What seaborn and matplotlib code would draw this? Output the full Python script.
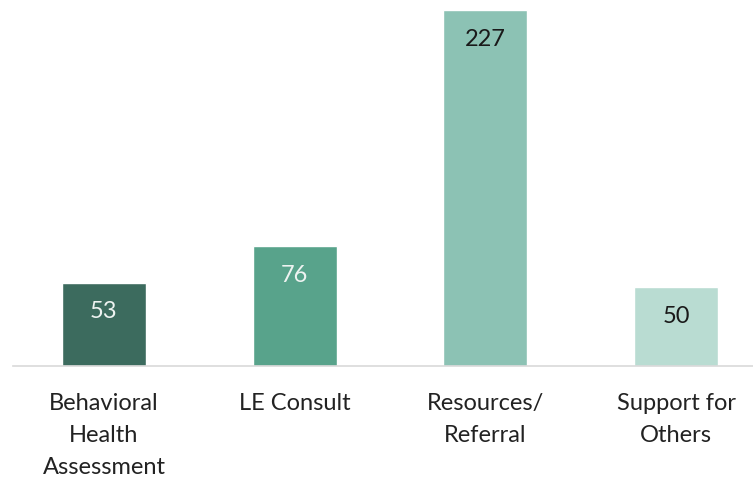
import pandas as pd
import numpy as np
import matplotlib.pyplot as plt
import seaborn as sns

categories = ["Behavioral\nHealth\nAssessment", "LE Consult", "Resources/\nReferral", "Support for\nOthers"]
counts = [53, 76, 227, 50]
bar_colors = ["#3c6b5e", "#58a38b", "#8cc2b4", "#b9dcd2"]
label_colors = ["#eef3f1", "#eef3f1", "#1a1a1a", "#1a1a1a"]

sns.set_style("white")
plt.rcParams['font.family'] = ['Lato', 'DejaVu Sans']

df = pd.DataFrame({"Category": categories, "Count": counts})

fig = plt.figure(figsize=(7.53, 4.78), dpi=100)
ax = fig.add_axes([13/753, 1 - 365.5/478, 740/753, 365.5/478])

sns.barplot(data=df, x="Category", y="Count", hue="Category", palette=bar_colors,
            legend=False, width=0.44, saturation=1, ax=ax)

ax.set_xlim(-0.477, 3.403)
ax.set_ylim(0, 233.4)

# value labels just under the top of each bar
for i, (v, c) in enumerate(zip(counts, label_colors)):
    ax.annotate(str(v), (i, v), xytext=(0, -29), textcoords="offset pixels",
                ha="center", va="center", fontsize=17, color=c)

ax.set_xlabel("")
ax.set_ylabel("")
ax.set_yticks([])
ax.tick_params(axis="x", length=0, pad=19.5, labelsize=17, labelcolor="#222222")
for lbl in ax.get_xticklabels():
    lbl.set_linespacing(1.66)
    lbl.set_va("top")

sns.despine(ax=ax, left=True)
ax.spines["bottom"].set_color("#d9d9d9")
ax.spines["bottom"].set_linewidth(1.2)

fig.savefig("out.png", dpi=100)
